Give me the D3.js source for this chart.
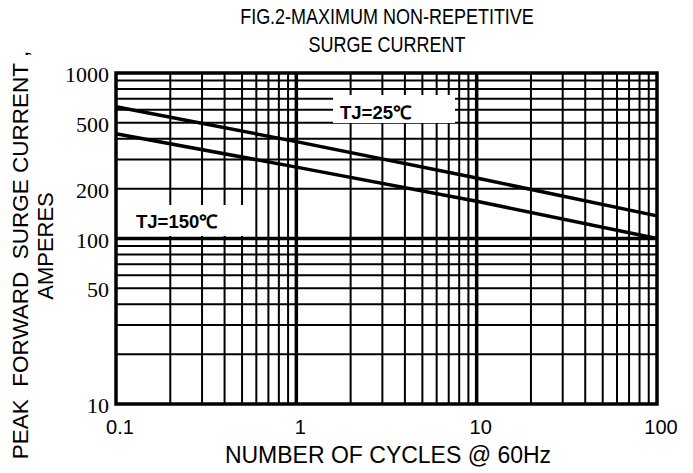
<!DOCTYPE html>
<html><head><meta charset="utf-8">
<script src="https://cdn.jsdelivr.net/npm/d3@7"></script>
<style>html,body{margin:0;padding:0;background:#fff;} svg{display:block;} text{white-space:pre;}</style>
</head><body>
<script>
const cycles = [0.1, 1, 10, 100];
const surgeTj25 = [625, 385, 232, 137];
const surgeTj150 = [430, 270, 168, 100];
const xTickLabels = ["0.1", "1", "10", "100"];
const yTickValues = [10, 50, 100, 200, 500, 1000];
const seriesLabels = ["TJ=25℃", "TJ=150℃"];

const W = 693, H = 473;
const m = {left: 116, right: 36, top: 73, bottom: 69};
const svg = d3.select("body").append("svg").attr("width", W).attr("height", H);
const x = d3.scaleLog().domain([0.1, 100]).range([m.left, W - m.right]);
const y = d3.scaleLog().domain([10, 1000]).range([H - m.bottom, m.top]);

const g = svg.append("g");
const xGrid = x.ticks().filter(v => v > 0.1 && v < 100);
const yGrid = y.ticks().filter(v => v > 10 && v < 1000);
const isMajor = v => Math.abs(Math.log10(v) - Math.round(Math.log10(v))) < 1e-6;
g.selectAll("line.vg").data(xGrid).join("line")
  .attr("x1", d => x(d)).attr("x2", d => x(d))
  .attr("y1", m.top).attr("y2", H - m.bottom)
  .attr("stroke", "#000").attr("stroke-width", d => isMajor(d) ? 3.5 : 2);
g.selectAll("line.hg").data(yGrid).join("line")
  .attr("y1", d => y(d)).attr("y2", d => y(d))
  .attr("x1", m.left).attr("x2", W - m.right)
  .attr("stroke", "#000").attr("stroke-width", d => isMajor(d) ? 3.5 : 2);

const boxes = [
  {x0: 333, y0: 95, w: 122, h: 28, tx: 340, ty: 119, label: seriesLabels[0]},
  {x0: 118, y0: 205, w: 130, h: 31, tx: 136, ty: 228, label: seriesLabels[1]}
];

const line = d3.line().x(d => x(d[0])).y(d => y(d[1]));
[surgeTj25, surgeTj150].forEach(s => {
  g.append("path").datum(cycles.map((c, i) => [c, s[i]]))
    .attr("d", line).attr("fill", "none").attr("stroke", "#000").attr("stroke-width", 3.5);
});

const sans = "Liberation Sans, Arial, sans-serif";
boxes.forEach(b => {
  g.append("rect").attr("x", b.x0).attr("y", b.y0).attr("width", b.w).attr("height", b.h).attr("fill", "#fff");
  g.append("text").attr("x", b.tx).attr("y", b.ty).text(b.label)
    .attr("font-family", sans).attr("font-weight", "bold").attr("font-size", 18.5);
});

g.append("rect").attr("x", m.left).attr("y", m.top)
  .attr("width", W - m.left - m.right).attr("height", H - m.top - m.bottom)
  .attr("fill", "none").attr("stroke", "#000").attr("stroke-width", 3.5);

svg.selectAll("text.yt").data(yTickValues).join("text")
  .attr("x", 109).attr("y", d => y(d) + 9)
  .attr("text-anchor", "end")
  .attr("font-family", "Liberation Serif, Times New Roman, serif").attr("font-size", 22)
  .text(d => d);
svg.selectAll("text.xt").data(cycles).join("text")
  .attr("x", d => x(d) + 4).attr("y", 434)
  .attr("text-anchor", "middle")
  .attr("font-family", sans).attr("font-size", 20)
  .text((d, i) => xTickLabels[i]);

svg.append("text").attr("transform", "translate(387,24) scale(0.9,1.1)").attr("text-anchor", "middle")
  .attr("font-family", sans).attr("font-size", 20).text("FIG.2-MAXIMUM NON-REPETITIVE");
svg.append("text").attr("transform", "translate(387,52) scale(0.9,1.1)").attr("text-anchor", "middle")
  .attr("font-family", sans).attr("font-size", 20).text("SURGE CURRENT");
svg.append("text").attr("x", 388).attr("y", 463).attr("text-anchor", "middle")
  .attr("font-family", sans).attr("font-size", 23).text("NUMBER OF CYCLES @ 60Hz");
svg.append("text").attr("transform", "translate(28,255) rotate(-90)").attr("text-anchor", "middle")
  .attr("font-family", sans).attr("font-size", 22.5).text("PEAK  FORWARD  SURGE CURRENT ,");
svg.append("text").attr("transform", "translate(53,246) rotate(-90)").attr("text-anchor", "middle")
  .attr("font-family", sans).attr("font-size", 22).text("AMPERES");
</script>
</body></html>
